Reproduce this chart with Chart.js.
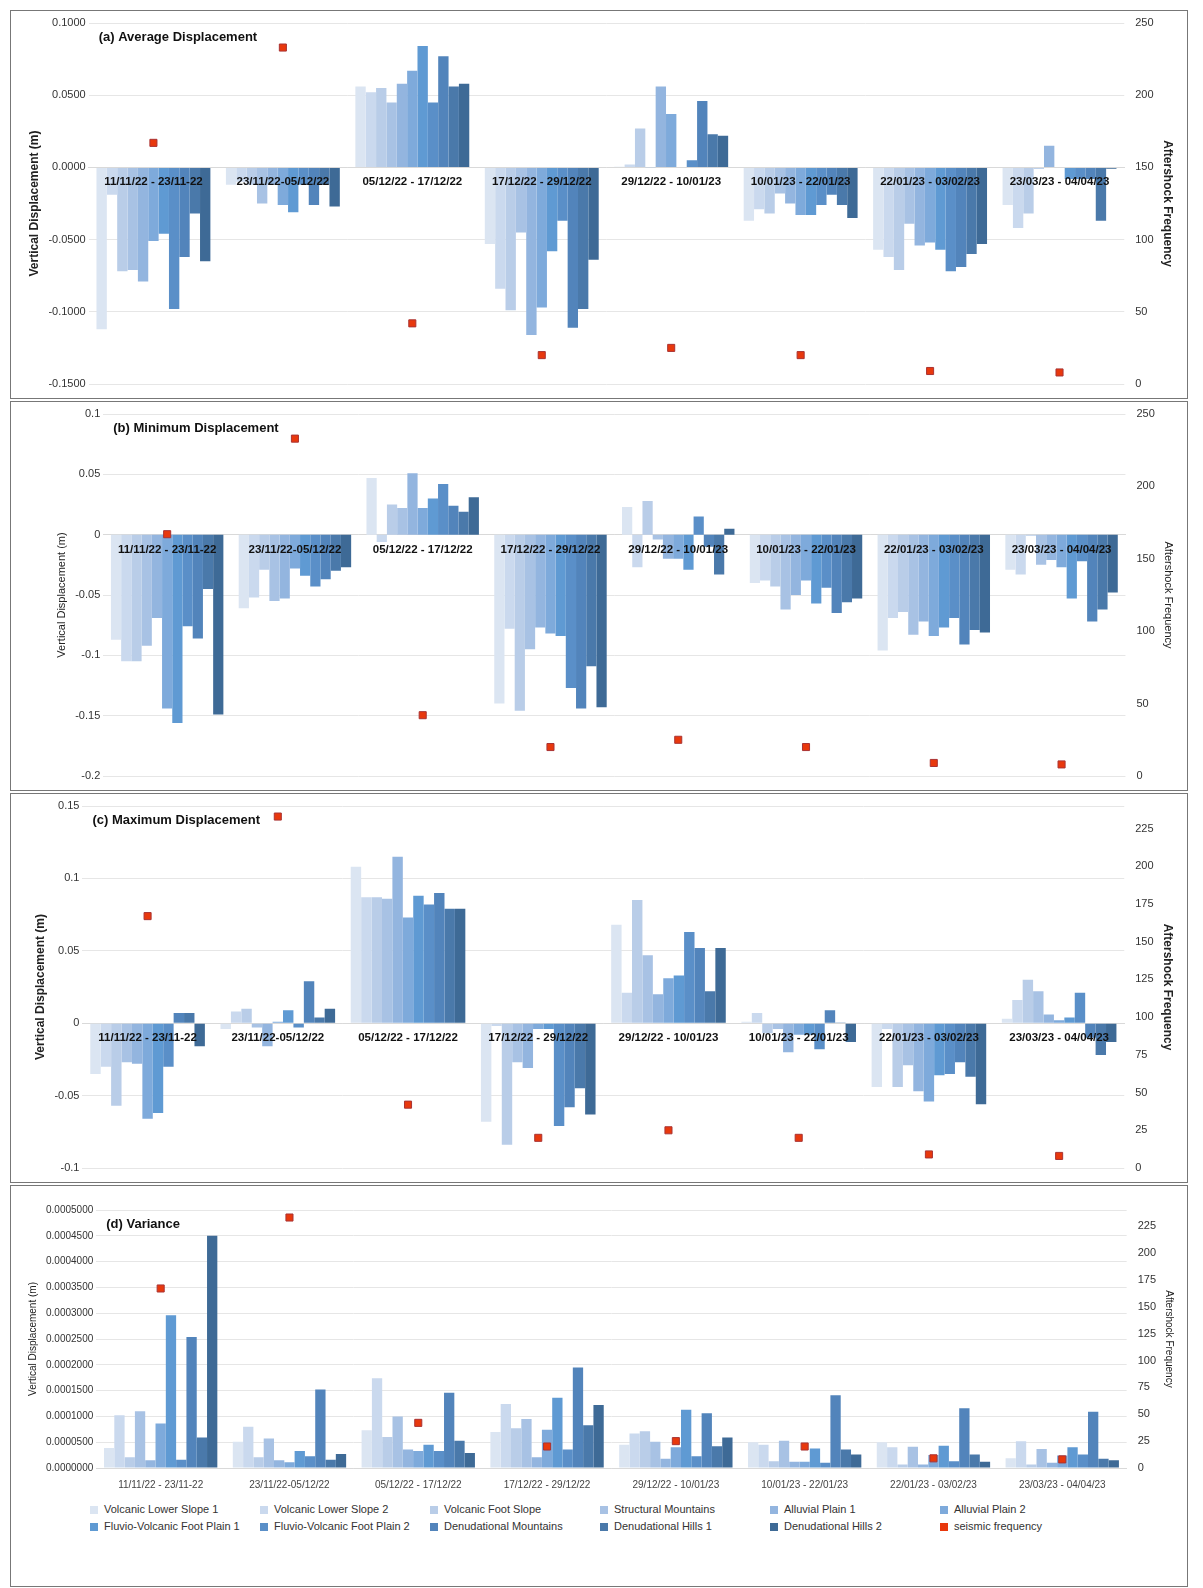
<!DOCTYPE html>
<html><head><meta charset="utf-8">
<script src="https://cdn.jsdelivr.net/npm/chart.js@4.4.1/dist/chart.umd.min.js"></script>
<style>
body{margin:0;background:#fff;font-family:"Liberation Sans",Arial,sans-serif;}
.panel{position:absolute;left:10px;width:1178px;border:1px solid #777;box-sizing:border-box;background:#fff}
.panel canvas{display:block}
#legend{position:absolute;left:90px;top:1503px;width:1020px;display:grid;grid-template-columns:repeat(6,1fr);row-gap:5px;font-size:11px;color:#333}
#legend span.b{display:inline-block;width:8px;height:8px;margin-right:6px;vertical-align:middle}
</style></head><body>
<div class="panel" style="top:10px;height:389px"><canvas id="ca"></canvas></div>
<div class="panel" style="top:401px;height:390px"><canvas id="cb"></canvas></div>
<div class="panel" style="top:793px;height:390px"><canvas id="cc"></canvas></div>
<div class="panel" style="top:1185px;height:402px"><div style="height:312px"><canvas id="cd"></canvas></div></div>
<div id="legend"></div>
<script>
const categories=["11/11/22 - 23/11-22","23/11/22-05/12/22","05/12/22 - 17/12/22","17/12/22 - 29/12/22","29/12/22 - 10/01/23","10/01/23 - 22/01/23","22/01/23 - 03/02/23","23/03/23 - 04/04/23"];
const seriesNames=["Volcanic Lower Slope 1","Volcanic Lower Slope 2","Volcanic Foot Slope","Structural Mountains","Alluvial Plain 1","Alluvial Plain 2","Fluvio-Volcanic Foot Plain 1","Fluvio-Volcanic Foot Plain 2","Denudational Mountains","Denudational Hills 1","Denudational Hills 2"];
const seriesColors=["#dbe5f2","#cad9ee","#b9cde8","#a8c2e4","#93b5df","#7eaadb","#5f9ad3","#5a8fc8","#5284bb","#4a79aa","#3e6a96"];
const seismicFrequency=[167,233,42,20,25,20,9,8];
// rows = periods, columns = series
const avgDisp=[
[-0.112,-0.019,-0.072,-0.071,-0.079,-0.051,-0.046,-0.098,-0.062,-0.032,-0.065],
[-0.012,-0.010,-0.012,-0.025,-0.012,-0.026,-0.031,-0.012,-0.026,-0.012,-0.027],
[0.056,0.052,0.055,0.045,0.058,0.067,0.084,0.045,0.077,0.056,0.058],
[-0.053,-0.084,-0.099,-0.045,-0.116,-0.097,-0.058,-0.037,-0.111,-0.098,-0.064],
[0.0005,0.002,0.027,-0.0003,0.056,0.037,0,0.005,0.046,0.023,0.022],
[-0.037,-0.029,-0.032,-0.018,-0.025,-0.033,-0.033,-0.026,-0.019,-0.026,-0.035],
[-0.057,-0.062,-0.071,-0.039,-0.054,-0.052,-0.057,-0.072,-0.069,-0.060,-0.053],
[-0.026,-0.042,-0.032,-0.001,0.015,0,-0.008,-0.008,-0.008,-0.037,-0.001]];
const minDisp=[
[-0.087,-0.105,-0.105,-0.092,-0.069,-0.144,-0.156,-0.076,-0.086,-0.045,-0.149],
[-0.061,-0.052,-0.029,-0.055,-0.053,-0.028,-0.034,-0.043,-0.037,-0.030,-0.027],
[0.047,-0.006,0.025,0.022,0.051,0.022,0.030,0.042,0.024,0.019,0.031],
[-0.140,-0.078,-0.146,-0.095,-0.077,-0.082,-0.084,-0.127,-0.144,-0.109,-0.143],
[0.023,-0.027,0.028,-0.004,-0.020,-0.020,-0.029,0.015,-0.010,-0.033,0.005],
[-0.040,-0.038,-0.043,-0.062,-0.050,-0.038,-0.057,-0.044,-0.065,-0.056,-0.053],
[-0.096,-0.069,-0.064,-0.083,-0.072,-0.084,-0.077,-0.069,-0.091,-0.079,-0.081],
[-0.029,-0.033,-0.001,-0.025,-0.021,-0.027,-0.053,-0.022,-0.072,-0.062,-0.048]];
const maxDisp=[
[-0.035,-0.030,-0.057,-0.027,-0.028,-0.066,-0.062,-0.030,0.007,0.007,-0.016],
[-0.004,0.008,0.010,-0.003,-0.016,0.001,0.009,-0.003,0.029,0.004,0.010],
[0.108,0.087,0.087,0.086,0.115,0.073,0.088,0.082,0.090,0.079,0.079],
[-0.068,-0.002,-0.084,-0.027,-0.031,-0.004,-0.004,-0.071,-0.058,-0.045,-0.063],
[0.068,0.021,0.085,0.047,0.020,0.031,0.033,0.063,0.052,0.022,0.052],
[0.001,0.007,-0.007,-0.004,-0.020,-0.008,-0.008,-0.018,0.009,0.0005,-0.013],
[-0.044,-0.004,-0.044,-0.029,-0.047,-0.054,-0.036,-0.035,-0.027,-0.037,-0.056],
[0.003,0.016,0.030,0.022,0.006,0.002,0.004,0.021,-0.010,-0.022,-0.013]];
const variance=[
[0.000039,0.000102,0.000021,0.000110,0.000015,0.000086,0.000296,0.000016,0.000254,0.000059,0.000450],
[0.000051,0.000080,0.000021,0.000057,0.000015,0.000011,0.000033,0.000023,0.000152,0.000016,0.000027],
[0.000073,0.000174,0.000060,0.000100,0.000036,0.000033,0.000045,0.000033,0.000146,0.000053,0.000029],
[0.000070,0.000124,0.000077,0.000095,0.000021,0.000074,0.000136,0.000036,0.000195,0.000083,0.000122],
[0.000045,0.000067,0.000071,0.000051,0.000018,0.000040,0.000113,0.000023,0.000106,0.000042,0.000059],
[0.000050,0.000045,0.000013,0.000053,0.000012,0.000012,0.000038,0.000010,0.000141,0.000036,0.000026],
[0.000050,0.000040,0.000007,0.000041,0.000007,0.000025,0.000043,0.000013,0.000116,0.000026,0.000012],
[0.000019,0.000052,0.000007,0.000037,0.000010,0.000024,0.000040,0.000026,0.000109,0.000018,0.000015]];

const FONT="'Liberation Sans', Arial, sans-serif";
const titlePlugin={id:'ptitle',afterDraw(c,a,o){const ctx=c.ctx,ca=c.chartArea;ctx.save();ctx.font="bold 13px "+FONT;ctx.fillStyle="#111";ctx.textBaseline='top';ctx.fillText(o.text,ca.left+10,ca.top+8);ctx.restore();}};
const catLabelPlugin={id:'catlab',afterDatasetsDraw(c,a,o){if(!o.on)return;const ctx=c.ctx,xs=c.scales.x,ys=c.scales.y;const y0=ys.getPixelForValue(0);ctx.save();ctx.font="bold 11.5px "+FONT;ctx.fillStyle="#111";ctx.textAlign='center';ctx.textBaseline='top';c.data.labels.forEach((l,i)=>ctx.fillText(l,xs.getPixelForValue(i),y0+9));ctx.restore();}};

function makeChart(id,rows,title,cfg){
  const datasets=seriesNames.map((n,i)=>({type:'bar',label:n,data:rows.map(r=>r[i]),backgroundColor:seriesColors[i],yAxisID:'y',order:2,categoryPercentage:0.88,barPercentage:1.0}));
  datasets.push({type:'line',label:'seismic frequency',data:seismicFrequency,yAxisID:'y1',showLine:false,pointStyle:'rect',pointRadius:5,pointBackgroundColor:'#e8380d',pointBorderColor:'#a33',pointBorderWidth:1,order:1});
  const xOpts=cfg.zeroAxis?{position:{y:0},grid:{display:false,drawTicks:false},border:{display:true,color:'#d9d9d9'},ticks:{display:false}}
   :{grid:{display:false},border:{color:'#d9d9d9'},ticks:{color:'#444',font:{family:FONT,size:10},autoSkip:false,maxRotation:0}};
  return new Chart(document.getElementById(id),{data:{labels:categories,datasets},plugins:[titlePlugin,catLabelPlugin],
   options:{responsive:true,maintainAspectRatio:false,animation:false,layout:{padding:cfg.pad},
    plugins:{legend:{display:false},tooltip:{enabled:false},ptitle:{text:title},catlab:{on:!!cfg.zeroAxis}},
    scales:{x:xOpts,
     y:{min:cfg.ymin,max:cfg.ymax,ticks:{stepSize:cfg.ystep,color:'#333',font:{family:FONT,size:cfg.yfont||11},callback:cfg.yfmt,autoSkip:false},grid:{color:'#e6e6e6',drawTicks:false},border:{display:false},
       title:{display:true,text:'Vertical Displacement (m)',color:'#222',font:{family:FONT,size:cfg.ytitleSize||12,weight:cfg.ytitleW||'bold'}}},
     y1:{position:'right',min:0,max:cfg.rmax,ticks:{stepSize:cfg.rstep,color:'#333',font:{family:FONT,size:11},autoSkip:false,callback:v=>v%cfg.rstep===0?v:''},grid:{display:false},border:{display:false},
       title:{display:true,text:'Aftershock Frequency',color:'#222',font:{family:FONT,size:cfg.rtitleSize||12,weight:cfg.rtitleW||'bold'}}}}}});
}
makeChart('ca',avgDisp,'(a) Average Displacement',{zeroAxis:true,ymin:-0.15,ymax:0.1,ystep:0.05,yfmt:v=>v.toFixed(4),rmax:250,rstep:50,pad:{left:12,right:8,top:12,bottom:14}});
makeChart('cb',minDisp,'(b) Minimum Displacement',{zeroAxis:true,ymin:-0.2,ymax:0.1,ystep:0.05,yfmt:v=>String(+v.toFixed(2)),rmax:250,rstep:50,ytitleSize:11,ytitleW:'normal',rtitleSize:11,rtitleW:'normal',pad:{left:40,right:8,top:12,bottom:14}});
makeChart('cc',maxDisp,'(c) Maximum Displacement',{zeroAxis:true,ymin:-0.1,ymax:0.15,ystep:0.05,yfmt:v=>String(+v.toFixed(2)),rmax:240,rstep:25,pad:{left:18,right:8,top:12,bottom:14}});
makeChart('cd',variance,'(d) Variance',{zeroAxis:false,ymin:0,ymax:0.0005,ystep:0.00005,yfmt:v=>v.toFixed(7),yfont:10,ytitleSize:10,ytitleW:'normal',rmax:240,rstep:25,rtitleSize:10,rtitleW:'normal',pad:{left:12,right:8,top:24,bottom:4}});

const lg=document.getElementById('legend');
seriesNames.concat(['seismic frequency']).forEach((n,i)=>{const d=document.createElement('div');const c=i<11?seriesColors[i]:'#e8380d';d.innerHTML='<span class="b" style="background:'+c+'"></span>'+n;lg.appendChild(d);});
</script></body></html>
